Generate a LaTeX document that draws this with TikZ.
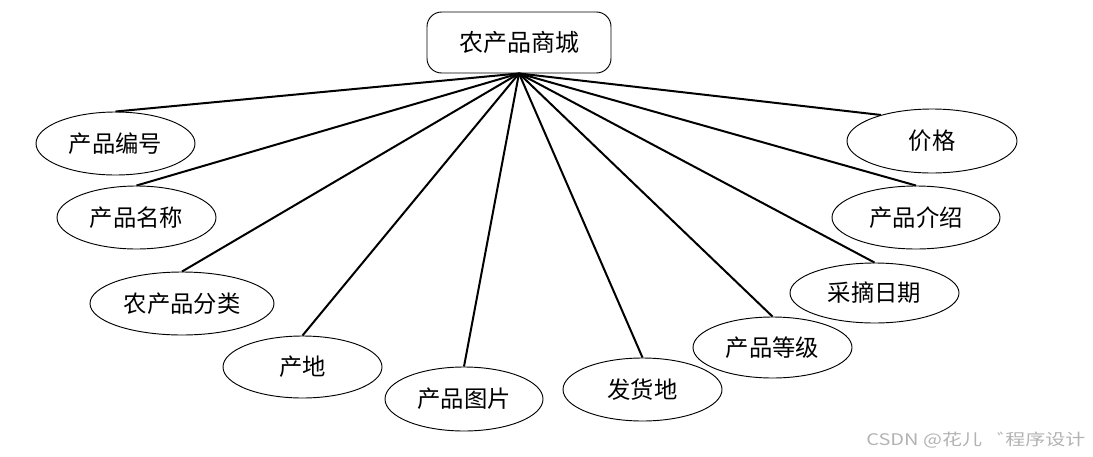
\documentclass[tikz,border=0pt]{standalone}
\usepackage{fontspec}
\setmainfont{Noto Sans CJK SC}
\newfontfamily\cjk{Noto Sans CJK SC}
\usetikzlibrary{shapes.geometric}
\tikzset{
  attr/.style={ellipse, draw=black, line width=0.7pt, inner sep=0pt, font=\cjk\fontsize{17.5}{20}\selectfont},
  entbox/.style={rectangle, rounded corners=11pt, draw=black, line width=0.7pt, inner sep=0pt, font=\cjk\fontsize{18}{21}\selectfont},
  conn/.style={draw=black, line width=1.5pt},
  wmark/.style={font=\cjk\fontsize{12}{14}\selectfont, text=black!30, inner sep=0pt}
}
\begin{document}
\begin{tikzpicture}[x=0.75pt,y=-0.75pt]
\useasboundingbox (0,0) rectangle (1093,457);
\node[entbox, minimum width=138pt, minimum height=45.75pt] (top) at (519,42.5) {农产品商城};
\node[attr, minimum width=119.25pt, minimum height=47.25pt] (e1) at (115.5,143.5) {产品编号};
\node[attr, minimum width=119.25pt, minimum height=47.25pt] (e2) at (136.5,217.5) {产品名称};
\node[attr, minimum width=138pt, minimum height=47.25pt] (e3) at (182,303.5) {农产品分类};
\node[attr, minimum width=119.25pt, minimum height=46.5pt] (e4) at (302.5,367) {产地};
\node[attr, minimum width=118.5pt, minimum height=48pt] (e5) at (464,399) {产品图片};
\node[attr, minimum width=119.25pt, minimum height=47.25pt] (e6) at (642.5,389.5) {发货地};
\node[attr, minimum width=119.25pt, minimum height=45.75pt] (e7) at (772.5,347.5) {产品等级};
\node[attr, minimum width=126.75pt, minimum height=45pt] (e8) at (874.5,293) {采摘日期};
\node[attr, minimum width=126pt, minimum height=47.25pt] (e9) at (916,217.5) {产品介绍};
\node[attr, minimum width=127.5pt, minimum height=48pt] (e10) at (932,141) {价格};
\foreach \e in {e1,e2,e3,e4,e5,e6,e7,e8,e9}
  \draw[conn] (top.south) -- (\e.north);
\draw[conn] (top.south) -- (e10.153);
\node[wmark, anchor=west] (wm) at (866,440) {\scalebox{1.25}[1]{CSDN @花儿\hspace{9pt}゛\hspace{-7pt}程序设计}};
\end{tikzpicture}
\end{document}
